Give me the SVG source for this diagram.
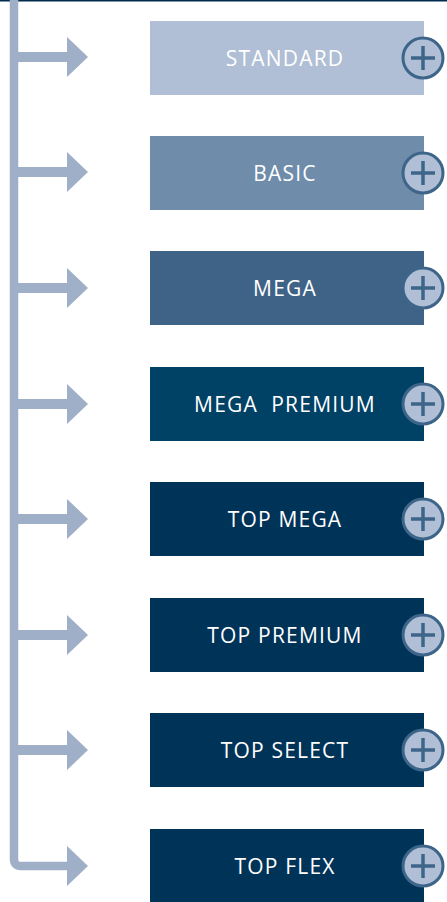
<svg xmlns="http://www.w3.org/2000/svg" width="447" height="902" viewBox="0 0 447 902">
<style>
.lbl{font-family:"Open Sans","Noto Sans",sans-serif;font-size:21px;fill:#fff;text-anchor:middle;letter-spacing:1.2px;white-space:pre}
.conn{stroke:#9EAFC7;fill:none}
.head{fill:#9EAFC7}
.pc{fill:#B0BFD5;stroke:#3D6589;stroke-width:3}
.pp{stroke:#3D6589;stroke-width:3.5;stroke-linecap:butt}
</style>
<defs>
<g id="plus">
<circle class="pc" cx="0" cy="0" r="20"/>
<path class="pp" d="M-12 0H12M0 -12V12"/>
</g>
</defs>
<rect x="0" y="0" width="447" height="1.5" fill="#002A4E"/>
<g id="connectors">
<path class="conn" stroke-width="8.5" d="M14 0V859Q14 866 21 866H68"/>
<path class="conn" stroke-width="10" d="M14 57H68M14 172H68M14 288H68M14 404H68M14 519H68M14 635H68M14 750H68"/>
<polygon class="head" points="67,37 88,57 67,77"/>
<polygon class="head" points="67,152 88,172 67,192"/>
<polygon class="head" points="67,268 88,288 67,308"/>
<polygon class="head" points="67,384 88,404 67,424"/>
<polygon class="head" points="67,499 88,519 67,539"/>
<polygon class="head" points="67,615 88,635 67,655"/>
<polygon class="head" points="67,730 88,750 67,770"/>
<polygon class="head" points="67,846 88,866 67,886"/>
</g>
<g id="standard"><rect x="150" y="21" width="274" height="74" fill="#B0BFD5"/><text class="lbl" x="285" y="66">STANDARD</text><use href="#plus" x="423" y="58"/></g>
<g id="basic"><rect x="150" y="136" width="274" height="74" fill="#6F8CAB"/><text class="lbl" x="285" y="181">BASIC</text><use href="#plus" x="423" y="173"/></g>
<g id="mega"><rect x="150" y="251" width="274" height="74" fill="#3F6387"/><text class="lbl" x="285" y="296">MEGA</text><use href="#plus" x="423" y="288"/></g>
<g id="mega-premium"><rect x="150" y="367" width="274" height="74" fill="#004166"/><text class="lbl" x="285" y="412" xml:space="preserve">MEGA  PREMIUM</text><use href="#plus" x="423" y="404"/></g>
<g id="top-mega"><rect x="150" y="482" width="274" height="74" fill="#003358"/><text class="lbl" x="285" y="527">TOP MEGA</text><use href="#plus" x="423" y="519"/></g>
<g id="top-premium"><rect x="150" y="598" width="274" height="74" fill="#003358"/><text class="lbl" x="285" y="643">TOP PREMIUM</text><use href="#plus" x="423" y="635"/></g>
<g id="top-select"><rect x="150" y="713" width="274" height="74" fill="#003358"/><text class="lbl" x="285" y="758">TOP SELECT</text><use href="#plus" x="423" y="750"/></g>
<g id="top-flex"><rect x="150" y="829" width="274" height="74" fill="#003358"/><text class="lbl" x="285" y="874">TOP FLEX</text><use href="#plus" x="423" y="866"/></g>
</svg>
